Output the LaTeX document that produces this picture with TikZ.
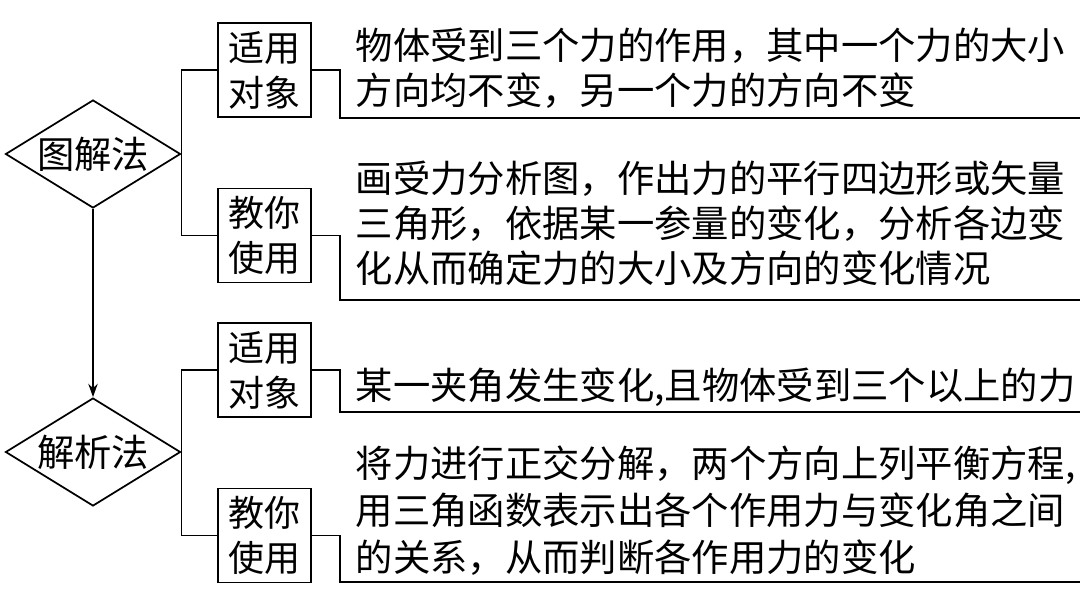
\documentclass[tikz,border=0pt]{standalone}
\usepackage{fontspec}
\newfontfamily\cjk{Noto Sans CJK SC}
\usetikzlibrary{shapes.geometric,arrows.meta}
\begin{document}
\begin{tikzpicture}[x=0.75pt,y=-0.75pt,line width=1.3pt]
            \useasboundingbox (0,0) rectangle (1080,600);
            \begin{scope}[every node/.style={diamond,draw,aspect=1.62,inner sep=0pt,minimum width=131.25pt,minimum height=81pt,font=\cjk\fontsize{28}{34}\selectfont}]
                \node (tu) at (93,154) {图解法};
                \node (jx) at (93,452) {解析法};
            \end{scope}
            \begin{scope}[every node/.style={rectangle,draw,align=center,inner sep=0pt,minimum width=69.75pt,minimum height=70.5pt,font=\cjk\fontsize{27}{33.75}\selectfont}]
                \node (tuA) at (264.5,70) {适用\\对象};
                \node (tuB) at (264.5,235.5) {教你\\使用};
                \node (jxA) at (264.5,370) {适用\\对象};
                \node (jxB) at (264.5,535.5) {教你\\使用};
            \end{scope}
            % base anchor sits on the last line
            \begin{scope}[every node/.style={anchor=base west,inner sep=0pt,align=left,font=\cjk\fontsize{28}{33.75}\selectfont}]
                \node (tuAt) at (355,104) {物体受到三个力的作用，其中一个力的大小\\方向均不变，另一个力的方向不变};
                \node (tuBt) at (355,282) {画受力分析图，作出力的平行四边形或矢量\\三角形，依据某一参量的变化，分析各边变\\化从而确定力的大小及方向的变化情况};
                \node (jxAt) at (355,399) {某一夹角发生变化,且物体受到三个以上的力};
                \node[font=\cjk\fontsize{28}{35.25}\selectfont] (jxBt) at (355,571) {将力进行正交分解，两个方向上列平衡方程,\\用三角函数表示出各个作用力与变化角之间\\的关系，从而判断各作用力的变化};
            \end{scope}
            \coordinate (tuAu) at (340,118);
            \coordinate (tuAe) at (1080,118);
            \coordinate (tuBu) at (340,300);
            \coordinate (tuBe) at (1080,300);
            \coordinate (jxAu) at (340,412);
            \coordinate (jxAe) at (1080,412);
            \coordinate (jxBu) at (340,582);
            \coordinate (jxBe) at (1080,582);
            \draw (tuA.west) -| (tu.east) |- (tuB.west);
            \draw (jxA.west) -| (jx.east) |- (jxB.west);
            \draw (tuA.east) -| (tuAu) -- (tuAe);
            \draw (tuB.east) -| (tuBu) -- (tuBe);
            \draw (jxA.east) -| (jxAu) -- (jxAe);
            \draw (jxB.east) -| (jxBu) -- (jxBe);
            \draw[-{Stealth[length=10pt,width=7pt]}] (tu.south) -- (jx.north);
        \end{tikzpicture}
\end{document}
